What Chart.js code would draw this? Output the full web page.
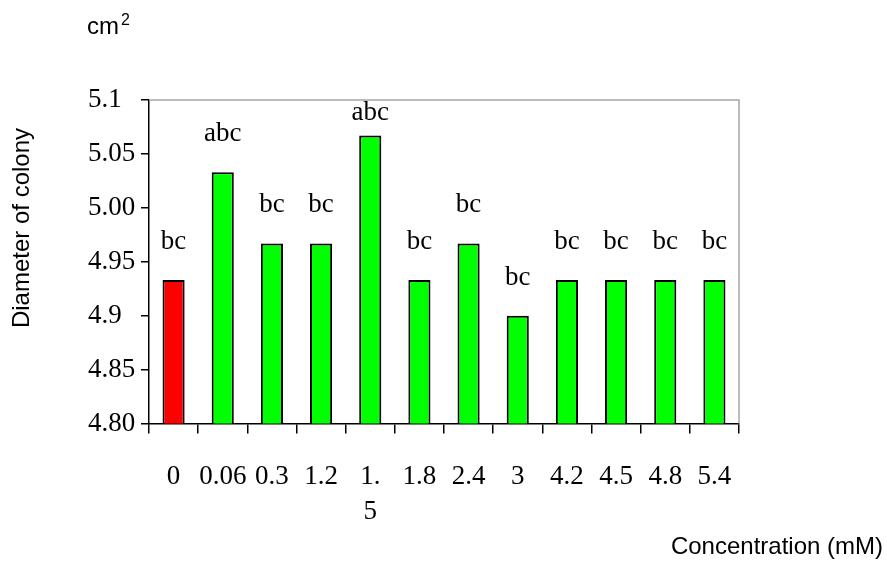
<!DOCTYPE html>
<html>
<head>
<meta charset="utf-8">
<script src="https://cdn.jsdelivr.net/npm/chart.js@4.4.1/dist/chart.umd.min.js"></script>
<style>
  html, body { margin: 0; padding: 0; background: #fff; }
  #wrap { width: 887px; height: 561px; }
</style>
</head>
<body>
<div id="wrap"><canvas id="myChart" width="887" height="561"></canvas></div>
<script>
// data
const categories = ['0', '0.06', '0.3', '1.2', ['1.', '5'], '1.8', '2.4', '3', '4.2', '4.5', '4.8', '5.4'];
const diameter = [4.933, 5.033, 4.967, 4.967, 5.067, 4.933, 4.967, 4.900, 4.933, 4.933, 4.933, 4.933];
const letters = ['bc', 'abc', 'bc', 'bc', 'abc', 'bc', 'bc', 'bc', 'bc', 'bc', 'bc', 'bc'];
const yTickLabels = ['4.80', '4.85', '4.9', '4.95', '5.00', '5.05', '5.1'];

const SERIF = '"Liberation Serif", "Times New Roman", serif';
const SANS = '"Liberation Sans", Arial, sans-serif';

const barColors = diameter.map((v, i) => i === 0 ? '#ff0000' : '#00ff00');

// letters above bars, frame lines, and free-floating titles
const extras = {
  id: 'extras',
  afterDatasetsDraw(chart) {
    const ctx = chart.ctx;
    const area = chart.chartArea;
    ctx.save();

    // gray top / right frame
    ctx.strokeStyle = '#a6a6a6';
    ctx.lineWidth = 1.5;
    ctx.beginPath();
    ctx.moveTo(area.left, area.top);
    ctx.lineTo(area.right, area.top);
    ctx.lineTo(area.right, area.bottom);
    ctx.stroke();

    // significance letters, kept inside the frame
    ctx.fillStyle = '#000';
    ctx.font = '27px ' + SERIF;
    ctx.textAlign = 'center';
    ctx.textBaseline = 'alphabetic';
    chart.getDatasetMeta(0).data.forEach((bar, i) => {
      ctx.fillText(letters[i], bar.x, Math.max(bar.y - 31, area.top + 20));
    });

    // unit label top-left
    ctx.font = '24px ' + SANS;
    ctx.textAlign = 'left';
    ctx.fillText('cm', 87, 34);
    ctx.font = '16px ' + SANS;
    ctx.fillText('2', 121, 25);

    // x title
    ctx.font = '24px ' + SANS;
    ctx.textAlign = 'right';
    ctx.textBaseline = 'middle';
    ctx.fillText('Concentration (mM)', 883, 547);

    // y title
    ctx.translate(22, 228);
    ctx.rotate(-Math.PI / 2);
    ctx.textAlign = 'center';
    ctx.fillText('Diameter of colony', 0, 0);
    ctx.restore();
  }
};

new Chart(document.getElementById('myChart'), {
  type: 'bar',
  data: {
    labels: categories,
    datasets: [{
      data: diameter,
      backgroundColor: barColors,
      borderColor: '#000',
      borderWidth: 2,
      borderSkipped: false,
      categoryPercentage: 1,
      barPercentage: 0.45
    }]
  },
  options: {
    responsive: false,
    animation: false,
    layout: { padding: { left: 88, right: 148, top: 100, bottom: 0 } },
    plugins: {
      legend: { display: false },
      tooltip: { enabled: false }
    },
    scales: {
      x: {
        offset: true,
        grid: { offset: true, drawOnChartArea: false, tickLength: 10, color: '#000', lineWidth: 1.5 },
        border: { color: '#000', width: 1.5 },
        ticks: {
          color: '#000',
          padding: 26,
          maxRotation: 0,
          autoSkip: false,
          font: { family: SERIF, size: 27, lineHeight: 1.3 }
        },
        afterFit(scale) { scale.height = 561 - 423.5; }
      },
      y: {
        min: 4.8,
        max: 5.1,
        grid: { drawOnChartArea: false, tickLength: 8, color: '#000', lineWidth: 1.5 },
        border: { color: '#000', width: 1.5 },
        ticks: {
          stepSize: 0.05,
          color: '#000',
          crossAlign: 'far',
          font: { family: SERIF, size: 27 },
          callback: (value, index) => yTickLabels[index]
        },
        afterFit(scale) { scale.width = 61; }
      }
    }
  },
  plugins: [extras]
});
</script>
</body>
</html>
